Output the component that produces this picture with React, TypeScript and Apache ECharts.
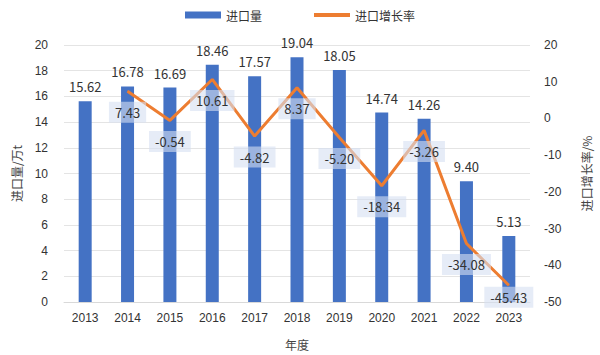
import React, { useEffect, useRef } from "react";
import * as echarts from "echarts";

const years = ["2013", "2014", "2015", "2016", "2017", "2018", "2019", "2020", "2021", "2022", "2023"];
const importVolume = [15.62, 16.78, 16.69, 18.46, 17.57, 19.04, 18.05, 14.74, 14.26, 9.4, 5.13];
const growthRate: (number | null)[] = [null, 7.43, -0.54, 10.61, -4.82, 8.37, -5.2, -18.34, -3.26, -34.08, -45.43];

const FONT = "'Noto Sans CJK SC', sans-serif";

export default function App() {
  const ref = useRef<HTMLDivElement>(null);
  useEffect(() => {
    if (!ref.current) return;
    const chart = echarts.init(ref.current, null, { renderer: "svg" });
    const lastIdx = growthRate.length - 1;
    const lineData = growthRate.map((v, i) =>
      i === lastIdx ? { value: v, label: { distance: 1 } } : v
    );
    chart.setOption({
      animation: false,
      textStyle: { fontFamily: FONT },
      legend: {
        top: 4,
        left: "center",
        itemWidth: 36,
        itemHeight: 7,
        itemGap: 52,
        textStyle: { fontSize: 12, color: "#333", fontFamily: FONT },
        data: [
          { name: "进口量", icon: "rect" },
          { name: "进口增长率", icon: "path://M0,0 L36,0 L36,4 L0,4 Z" },
        ],
      },
      grid: { left: 64, right: 66, top: 45, bottom: 53 },
      xAxis: {
        type: "category",
        data: years,
        name: "年度",
        nameLocation: "middle",
        nameGap: 36,
        nameTextStyle: { fontSize: 12, color: "#444" },
        axisLine: { lineStyle: { color: "#d9d9d9" } },
        axisTick: { show: false },
        axisLabel: { fontSize: 12, color: "#333", margin: 10, fontFamily: "'Liberation Sans', sans-serif" },
      },
      yAxis: [
        {
          type: "value",
          min: 0,
          max: 20,
          interval: 2,
          name: "进口量/万t",
          nameLocation: "middle",
          nameGap: 42,
          nameRotate: 90,
          nameTextStyle: { fontSize: 12, color: "#444" },
          axisLine: { show: false },
          axisTick: { show: false },
          axisLabel: { fontSize: 12, color: "#333", margin: 16, fontFamily: "'Liberation Sans', sans-serif" },
          splitLine: { lineStyle: { color: "#e4e4e4" } },
        },
        {
          type: "value",
          min: -50,
          max: 20,
          interval: 10,
          name: "进口增长率/%",
          nameLocation: "middle",
          nameGap: 50,
          nameRotate: 90,
          nameTextStyle: { fontSize: 12, color: "#444" },
          axisLine: { show: false },
          axisTick: { show: false },
          axisLabel: { fontSize: 12, color: "#333", margin: 14, fontFamily: "'Liberation Sans', sans-serif" },
          splitLine: { show: false },
        },
      ],
      series: [
        {
          name: "进口量",
          type: "bar",
          data: importVolume,
          barWidth: 13,
          itemStyle: { color: "#4472C4" },
          label: {
            show: true,
            position: "top",
            distance: 8,
            fontSize: 13,
            color: "#333",
            formatter: (p: any) => p.value.toFixed(2),
          },
        },
        {
          name: "进口增长率",
          type: "line",
          yAxisIndex: 1,
          data: lineData,
          showSymbol: true,
          symbol: "circle",
          symbolSize: 1,
          lineStyle: { color: "#ED7D31", width: 3 },
          itemStyle: { color: "#ED7D31" },
          label: {
            show: true,
            position: "bottom",
            distance: 10,
            fontSize: 13,
            color: "#333",
            backgroundColor: "rgba(214,224,242,0.6)",
            padding: [4, 6],
            formatter: (p: any) => (p.value == null ? "" : Number(p.value).toFixed(2)),
          },
          z: 3,
        },
      ],
    });
    return () => chart.dispose();
  }, []);
  return <div ref={ref} style={{ width: 600, height: 355, position: "absolute", left: 0, top: 0 }} />;
}
